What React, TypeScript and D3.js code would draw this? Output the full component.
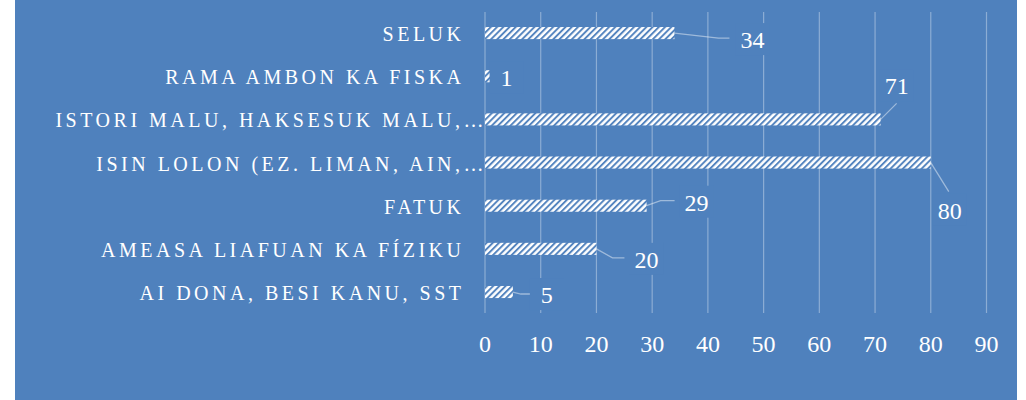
import React from "react";
import * as d3 from "d3";

// categories top to bottom, as they appear on the chart
const categories = [
  "SELUK",
  "RAMA AMBON KA FISKA",
  "ISTORI MALU, HAKSESUK MALU,…",
  "ISIN LOLON (EZ. LIMAN, AIN,…",
  "FATUK",
  "AMEASA LIAFUAN KA FÍZIKU",
  "AI DONA, BESI KANU, SST",
];
const values = [34, 1, 71, 80, 29, 20, 5];
const ticks = [0, 10, 20, 30, 40, 50, 60, 70, 80, 90];

// where each data label sits relative to the end of its bar, and its leader line
const labelOffsets = [
  { dx: 78, dy: 15, leader: [[0, 0], [44, 5], [55, 5]] },
  { dx: 16, dy: 10, leader: [] },
  { dx: 16, dy: -25, leader: [[0, 0], [16, -16]] },
  { dx: 19, dy: 56, leader: [[0, 0], [18, 29]] },
  { dx: 50, dy: 5, leader: [[0, 0], [14, -5], [28, -5]] },
  { dx: 50, dy: 19, leader: [[0, 0], [16, 9], [28, 9]] },
  { dx: 34, dy: 11, leader: [[0, 0], [8, 2], [19, 2]] },
];

const W = 1026;
const H = 400;
const BG = "#4f81bd";
const FONT = "'Liberation Serif', 'DejaVu Serif', serif";

export default function App() {
  const x = d3.scaleLinear().domain([0, 90]).range([485, 986.5]);
  const y = d3
    .scaleBand<string>()
    .domain(categories)
    .range([11.5, 313.6])
    .paddingInner(0.72)
    .paddingOuter(0.36);
  const line = d3.line();

  return (
    <svg width={W} height={H} style={{ position: "absolute", left: 0, top: 0, display: "block" }}>
      <defs>
        <pattern id="hatch" width={4.4} height={4.4} patternUnits="userSpaceOnUse" patternTransform="rotate(45)">
          <rect width={4.4} height={4.4} fill="#ffffff" />
          <line x1={1} y1={0} x2={1} y2={4.4} stroke={BG} strokeWidth={1.9} />
        </pattern>
      </defs>
      <rect x={0} y={0} width={W} height={H} fill="#ffffff" />
      <rect x={15} y={0} width={1002} height={H} fill={BG} />

      {ticks.map((t) => (
        <g key={t}>
          <line x1={x(t)} x2={x(t)} y1={12} y2={313} stroke="#ffffff" strokeOpacity={0.35} strokeWidth={1.2} />
          <text x={x(t)} y={352} textAnchor="middle" fill="#ffffff" fontFamily={FONT} fontSize={24}>
            {t}
          </text>
        </g>
      ))}

      {categories.map((c, i) => {
        const cy = (y(c) as number) + y.bandwidth() / 2;
        const truncated = c.endsWith("…");
        return (
          <g key={c}>
            <text
              x={truncated ? 487 : 464.5}
              y={cy + 8}
              textAnchor="end"
              fill="#ffffff"
              fontFamily={FONT}
              fontSize={20}
              letterSpacing={3.5}
            >
              {c}
            </text>
            <rect x={x(0)} y={y(c)} width={x(values[i]) - x(0)} height={y.bandwidth()} fill="url(#hatch)" />
          </g>
        );
      })}

      {categories.map((c, i) => {
        const cy = (y(c) as number) + y.bandwidth() / 2;
        const ex = x(values[i]);
        const o = labelOffsets[i];
        const pts = o.leader.map(([a, b]) => [ex + a, cy + b] as [number, number]);
        return (
          <g key={"l" + c}>
            {pts.length > 0 && (
              <path d={line(pts) || ""} fill="none" stroke="#ffffff" strokeOpacity={0.45} strokeWidth={1.3} />
            )}
            <rect x={ex + o.dx - 17} y={cy + o.dy - 25} width={34} height={32} fill={BG} />
            <text x={ex + o.dx} y={cy + o.dy} textAnchor="middle" fill="#ffffff" fontFamily={FONT} fontSize={24}>
              {values[i]}
            </text>
          </g>
        );
      })}
    </svg>
  );
}
